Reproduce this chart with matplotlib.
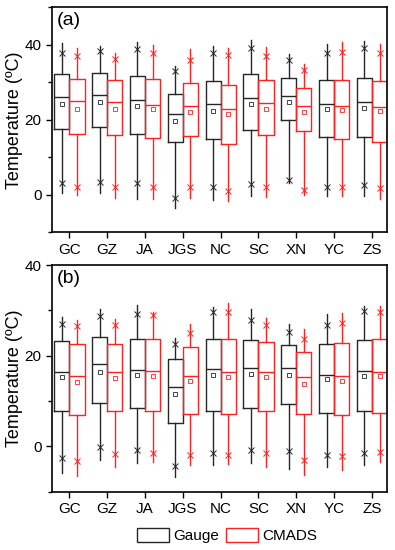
import matplotlib.pyplot as plt
from matplotlib.patches import Patch
from matplotlib.ticker import MultipleLocator
import numpy as np

plt.rcParams['font.family'] = ['Liberation Sans', 'DejaVu Sans']

stations = ['GC', 'GZ', 'JA', 'JGS', 'NC', 'SC', 'XN', 'YC', 'ZS']

# panel (a): whisker low, p1, q1, median, mean, q3, p99, whisker high
a_gauge = {
    'lo':   [0.4, 0.4, -1.0, -3.4, -1.4, -0.2, 3.2, -0.2, -0.3],
    'p1':   [3.1, 3.4, 3.1, -0.8, 2.1, 3.0, 4.0, 2.1, 2.6],
    'q1':   [17.6, 18.1, 16.1, 14.1, 14.8, 17.2, 19.9, 15.4, 15.3],
    'med':  [26.0, 26.6, 25.4, 21.5, 24.2, 25.9, 26.4, 24.3, 24.7],
    'mean': [24.3, 24.8, 23.6, 19.7, 22.3, 24.2, 24.8, 22.8, 23.2],
    'q3':   [32.1, 32.6, 31.7, 26.9, 30.4, 32.2, 31.1, 30.7, 31.1],
    'p99':  [37.8, 38.3, 38.8, 33.0, 37.7, 39.2, 36.0, 37.9, 39.1],
    'hi':   [40.4, 39.7, 40.7, 34.4, 39.6, 41.3, 37.6, 40.2, 40.9],
}
a_cmads = {
    'lo':   [0.0, -0.9, -1.1, -0.8, -1.6, -0.6, 0.0, -0.2, -1.2],
    'p1':   [2.1, 2.1, 2.1, 2.1, 1.0, 2.1, 1.4, 2.1, 1.7],
    'q1':   [16.2, 15.9, 15.1, 15.6, 13.5, 15.9, 16.9, 14.9, 14.1],
    'med':  [25.0, 24.7, 24.0, 23.8, 22.9, 24.6, 23.8, 23.6, 23.4],
    'mean': [23.0, 22.9, 22.8, 22.1, 21.5, 23.0, 22.0, 22.5, 22.3],
    'q3':   [30.9, 30.7, 31.0, 29.8, 29.4, 30.7, 28.4, 30.7, 30.4],
    'p99':  [36.9, 36.2, 37.8, 36.0, 37.2, 37.1, 33.4, 38.0, 37.8],
    'hi':   [39.2, 37.8, 40.0, 38.9, 39.2, 39.4, 34.9, 40.7, 40.2],
}

# panel (b)
b_gauge = {
    'lo':   [-5.9, -2.9, -3.6, -6.8, -4.2, -3.7, -5.0, -4.6, -4.0],
    'p1':   [-2.6, -0.1, -0.8, -4.4, -1.5, -0.8, -1.1, -1.8, -1.5],
    'q1':   [7.7, 9.6, 8.5, 5.2, 7.8, 8.5, 9.4, 7.4, 7.7],
    'med':  [16.5, 18.2, 16.8, 13.0, 17.0, 17.2, 17.2, 15.8, 16.6],
    'mean': [15.2, 16.5, 15.8, 11.6, 15.8, 15.9, 15.7, 14.8, 15.5],
    'q3':   [23.2, 24.2, 23.7, 19.3, 23.6, 23.4, 22.3, 22.6, 23.5],
    'p99':  [26.9, 28.7, 29.2, 22.5, 29.7, 27.8, 25.2, 26.8, 29.8],
    'hi':   [28.5, 30.3, 31.3, 24.0, 30.7, 30.3, 27.1, 29.3, 31.0],
}
b_cmads = {
    'lo':   [-6.5, -4.5, -3.4, -4.2, -3.8, -4.5, -6.3, -5.3, -3.4],
    'p1':   [-3.2, -1.7, -1.5, -2.0, -1.8, -1.5, -2.9, -2.2, -1.3],
    'q1':   [6.9, 7.7, 7.8, 7.1, 7.2, 7.7, 7.1, 6.9, 7.3],
    'med':  [15.6, 16.4, 16.6, 15.5, 16.4, 16.4, 15.3, 15.5, 16.4],
    'mean': [14.3, 15.0, 15.6, 14.4, 15.3, 15.3, 13.7, 14.5, 15.5],
    'q3':   [22.6, 22.7, 23.7, 21.9, 23.6, 23.1, 20.8, 22.8, 23.6],
    'p99':  [26.6, 26.7, 28.9, 25.1, 29.6, 26.7, 23.7, 27.2, 29.7],
    'hi':   [27.9, 28.1, 29.7, 27.1, 31.6, 28.4, 25.8, 29.5, 30.9],
}

GAUGE_C = '#262626'
CMADS_C = '#ff2020'


def make_stats(d):
    out = []
    for i in range(len(stations)):
        out.append({'whislo': d['lo'][i], 'q1': d['q1'][i], 'med': d['med'][i],
                    'mean': d['mean'][i], 'q3': d['q3'][i], 'whishi': d['hi'][i],
                    'fliers': [d['p1'][i], d['p99'][i]]})
    return out


def draw(ax, gauge, cmads):
    pos = np.arange(1, len(stations) + 1)
    for d, c, off in [(gauge, GAUGE_C, -0.2), (cmads, CMADS_C, 0.2)]:
        ax.bxp(make_stats(d), positions=pos + off, widths=0.4, showmeans=True,
               showcaps=False, patch_artist=False, manage_ticks=False,
               boxprops=dict(color=c, linewidth=1),
               whiskerprops=dict(color=c, linewidth=1),
               medianprops=dict(color=c, linewidth=1),
               meanprops=dict(marker='s', markerfacecolor='none',
                              markeredgecolor=c, markersize=2.8, markeredgewidth=0.6),
               flierprops=dict(marker='x', markeredgecolor=c, markersize=3.8,
                               markeredgewidth=0.7))
    ax.set_xticks(pos)
    ax.set_xticklabels(stations, fontsize=11)
    ax.set_xlim(0.54, 9.4)
    ax.yaxis.set_major_locator(MultipleLocator(20))
    ax.yaxis.set_minor_locator(MultipleLocator(10))
    ax.tick_params(axis='both', which='both', direction='out', labelsize=11,
                   top=False, right=False, width=1)
    ax.tick_params(axis='both', which='major', length=4)
    ax.tick_params(axis='y', which='minor', length=3)
    for s in ax.spines.values():
        s.set_linewidth(1.2)
    ax.set_ylabel('Temperature (\u00baC)', fontsize=13, labelpad=1)


fig = plt.figure(figsize=(3.95, 5.5), dpi=100)
ax1 = fig.add_axes([0.1316, 0.5776, 0.8484, 0.4091])
ax2 = fig.add_axes([0.1316, 0.106, 0.8484, 0.412])

draw(ax1, a_gauge, a_cmads)
ax1.set_ylim(-10, 50)
ax1.text(0.015, 0.98, '(a)', transform=ax1.transAxes, fontsize=14, va='top')

draw(ax2, b_gauge, b_cmads)
ax2.set_ylim(-10, 40)
ax2.text(0.015, 0.98, '(b)', transform=ax2.transAxes, fontsize=14, va='top')

handles = [Patch(facecolor='none', edgecolor=GAUGE_C, linewidth=1, label='Gauge'),
           Patch(facecolor='none', edgecolor=CMADS_C, linewidth=1, label='CMADS')]
fig.legend(handles=handles, loc='center', bbox_to_anchor=(0.575, 0.026), ncol=2,
           frameon=False, fontsize=11, handlelength=2.1, handleheight=1.0,
           handletextpad=0.3, columnspacing=0.4)

fig.savefig('out.png', dpi=100)
